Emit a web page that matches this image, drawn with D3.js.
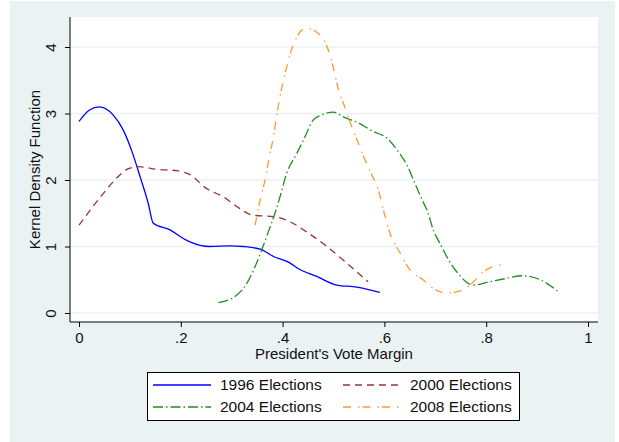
<!DOCTYPE html>
<html lang="en">
<head>
<meta charset="UTF-8">
<title>Kernel Density of President's Vote Margin</title>
<script src="https://d3js.org/d3.v7.min.js"></script>
<style>
    body { margin: 0; background: #fff; }
    text { font-family: "Liberation Sans", Arial, sans-serif; fill: #111; }
</style>
</head>
<body>
<svg id="chart" width="619" height="442"></svg>
<script>
// values
const margin1996  = [0, 0.02, 0.04, 0.067, 0.087, 0.104, 0.12, 0.136, 0.146, 0.179, 0.205, 0.218, 0.257, 0.297, 0.323, 0.356, 0.382, 0.415, 0.428, 0.467, 0.506, 0.546, 0.591];
const density1996 = [2.88, 3.05, 3.10, 2.98, 2.75, 2.43, 2.05, 1.65, 1.35, 1.25, 1.12, 1.07, 1.00, 1.01, 1.00, 0.96, 0.85, 0.75, 0.68, 0.55, 0.42, 0.39, 0.31];

const margin2000  = [0, 0.048, 0.074, 0.097, 0.117, 0.153, 0.192, 0.218, 0.251, 0.283, 0.316, 0.342, 0.382, 0.415, 0.447, 0.487, 0.526, 0.568];
const density2000 = [1.32, 1.80, 2.03, 2.17, 2.20, 2.16, 2.14, 2.08, 1.87, 1.75, 1.57, 1.47, 1.45, 1.37, 1.22, 1.00, 0.75, 0.47];

const margin2004  = [0.274, 0.31, 0.33, 0.346, 0.359, 0.372, 0.385, 0.395, 0.408, 0.428, 0.444, 0.46, 0.477, 0.50, 0.519, 0.546, 0.578, 0.605, 0.627, 0.644, 0.66, 0.673, 0.686, 0.696, 0.709, 0.726, 0.742, 0.775, 0.807, 0.84, 0.87, 0.906, 0.945];
const density2004 = [0.155, 0.27, 0.45, 0.70, 0.95, 1.22, 1.50, 1.75, 2.10, 2.40, 2.65, 2.90, 2.98, 3.02, 2.95, 2.87, 2.73, 2.63, 2.43, 2.23, 1.95, 1.72, 1.50, 1.25, 1.05, 0.80, 0.62, 0.42, 0.47, 0.52, 0.56, 0.50, 0.30];

const margin2008  = [0.346, 0.356, 0.367, 0.374, 0.382, 0.388, 0.396, 0.405, 0.415, 0.428, 0.437, 0.45, 0.464, 0.477, 0.49, 0.50, 0.51, 0.523, 0.536, 0.549, 0.562, 0.575, 0.588, 0.598, 0.611, 0.631, 0.650, 0.676, 0.696, 0.722, 0.755, 0.775, 0.794, 0.814, 0.834];
const density2008 = [1.32, 1.70, 2.05, 2.35, 2.65, 2.95, 3.30, 3.60, 3.90, 4.15, 4.25, 4.28, 4.24, 4.15, 3.95, 3.68, 3.35, 3.08, 2.80, 2.55, 2.30, 2.08, 1.85, 1.55, 1.20, 0.90, 0.65, 0.50, 0.37, 0.30, 0.35, 0.47, 0.62, 0.70, 0.73];

const seriesNames = ["1996 Elections", "2000 Elections", "2004 Elections", "2008 Elections"];
const xTicks = [0, 0.2, 0.4, 0.6, 0.8, 1];
const yTicks = [0, 1, 2, 3, 4];

const series = [
    {name: seriesNames[0], x: margin1996, y: density1996, color: "#0000ff", dash: null},
    {name: seriesNames[1], x: margin2000, y: density2000, color: "#993333", dash: "7,5"},
    {name: seriesNames[2], x: margin2004, y: density2004, color: "#1e901e", dash: "10,3,1.5,3"},
    {name: seriesNames[3], x: margin2008, y: density2008, color: "#ff9933", dash: "8,7,1.5,3"}
];

const svg = d3.select("#chart");

// outer graph region
svg.append("rect")
    .attr("x", 10).attr("y", 1)
    .attr("width", 605).attr("height", 441)
    .attr("fill", "#eaf2f3");

const plot = {left: 70, right: 598, top: 17, bottom: 322};

svg.append("rect")
    .attr("x", plot.left).attr("y", plot.top)
    .attr("width", plot.right - plot.left).attr("height", plot.bottom - plot.top)
    .attr("fill", "#fff");

const x = d3.scaleLinear().domain([0, 1]).range([79, 588]);
const y = d3.scaleLinear().domain([0, 4]).range([313, 47]);

// gridlines
svg.append("g")
    .selectAll("line")
    .data(yTicks)
    .join("line")
    .attr("x1", plot.left).attr("x2", plot.right)
    .attr("y1", d => y(d)).attr("y2", d => y(d))
    .attr("stroke", "#eaf2f3")
    .attr("stroke-width", 1.5);

// y axis
const yAxis = svg.append("g")
    .attr("transform", `translate(${plot.left},0)`)
    .call(d3.axisLeft(y).tickValues(yTicks).tickSize(5).tickSizeOuter(0).tickFormat(d3.format("d")));
yAxis.select(".domain").attr("d", `M0,${plot.top}V${plot.bottom}`).attr("stroke", "#000");
yAxis.selectAll(".tick line").attr("stroke", "#000");
yAxis.selectAll(".tick text")
    .attr("font-size", 15)
    .attr("x", 0).attr("y", 0).attr("dy", 0)
    .attr("text-anchor", "middle")
    .attr("transform", "translate(-14,0) rotate(-90)");

// x axis
const xAxis = svg.append("g")
    .attr("transform", `translate(0,${plot.bottom})`)
    .call(d3.axisBottom(x).tickValues(xTicks).tickSize(5).tickSizeOuter(0)
        .tickFormat(d => d === 0 ? "0" : d === 1 ? "1" : d3.format(".1f")(d).replace(/^0/, "")));
xAxis.select(".domain").attr("d", `M${plot.left},0H${plot.right}`).attr("stroke", "#000");
xAxis.selectAll(".tick line").attr("stroke", "#000");
xAxis.selectAll(".tick text").attr("font-size", 15).attr("y", 10).attr("dy", "0.71em");

// axis titles
svg.append("text")
    .attr("x", (plot.left + plot.right) / 2).attr("y", 359)
    .attr("text-anchor", "middle")
    .attr("font-size", 15)
    .text("President's Vote Margin");

svg.append("text")
    .attr("transform", `translate(40,${(plot.top + plot.bottom) / 2}) rotate(-90)`)
    .attr("text-anchor", "middle")
    .attr("font-size", 15)
    .text("Kernel Density Function");

// density curves
const line = d3.line()
    .x(d => x(d[0]))
    .y(d => y(d[1]))
    .curve(d3.curveMonotoneX);

svg.append("g")
    .selectAll("path")
    .data(series)
    .join("path")
    .attr("d", s => line(d3.zip(s.x, s.y)))
    .attr("fill", "none")
    .attr("stroke", s => s.color)
    .attr("stroke-width", 1.3)
    .attr("stroke-dasharray", s => s.dash);

// legend
const legend = svg.append("g");
legend.append("rect")
    .attr("x", 147.5).attr("y", 372.5)
    .attr("width", 372).attr("height", 48)
    .attr("fill", "#fff")
    .attr("stroke", "#000");

const legendPos = [[153, 385], [343, 385], [153, 407], [343, 407]];
const items = legend.selectAll("g.item")
    .data(series)
    .join("g")
    .attr("class", "item")
    .attr("transform", (d, i) => `translate(${legendPos[i][0]},${legendPos[i][1]})`);
items.append("line")
    .attr("x1", 0).attr("x2", 58)
    .attr("stroke", d => d.color)
    .attr("stroke-width", 1.3)
    .attr("stroke-dasharray", d => d.dash);
items.append("text")
    .attr("x", 67).attr("dy", "0.35em")
    .attr("font-size", 15.5)
    .text(d => d.name);
</script>
</body>
</html>
